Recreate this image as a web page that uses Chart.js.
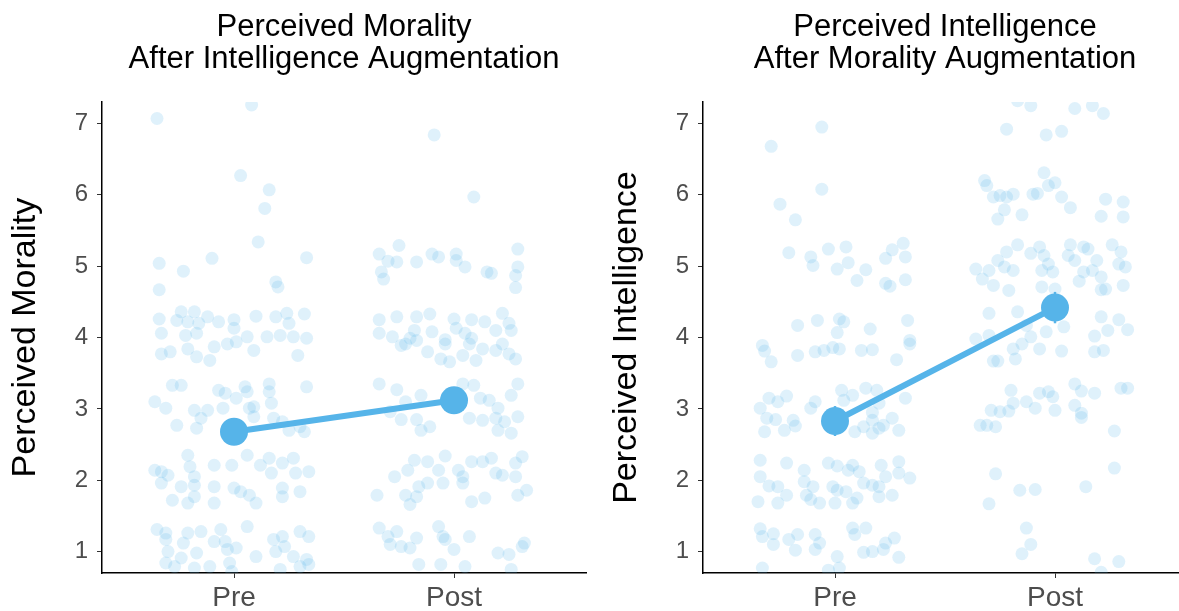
<!DOCTYPE html>
<html>
<head>
<meta charset="utf-8">
<title>Perceived morality and intelligence</title>
<script src="https://cdn.jsdelivr.net/npm/chart.js@4.4.1/dist/chart.umd.min.js"></script>
<style>
  html, body { margin: 0; padding: 0; background: #fff; overflow: hidden; }
  #wrap { position: relative; width: 1179px; height: 611px; overflow: hidden; }
  canvas { position: absolute; top: 0; }
  #left { left: 0; }
  #right { left: 601px; }
</style>
</head>
<body>
<div id="wrap">
  <canvas id="left" width="600" height="611"></canvas>
  <canvas id="right" width="600" height="611"></canvas>
</div>
<script>
const categories = ["Pre", "Post"];
const yTicks = [1, 2, 3, 4, 5, 6, 7];

// mean and standard error per condition
const moralityMeans = [2.68, 3.12];
const moralitySE = [0.15, 0.15];
const intelligenceMeans = [2.83, 4.42];
const intelligenceSE = [0.21, 0.22];

// jittered raw ratings, [x, rating] (x: 1 = Pre, 2 = Post)
const moralityPre = [
  [0.65,7.07],[1.08,7.26],[1.03,6.27],[1.16,6.07],[1.14,5.81],[1.11,5.34],[0.66,5.04],[0.77,4.93],[0.90,5.11],[1.33,5.12],[0.66,4.67],[1.19,4.78],[1.20,4.71],
  [0.66,4.26],[0.76,4.36],[0.82,4.36],[0.88,4.29],[0.93,4.22],[1.00,4.25],[1.10,4.30],[1.19,4.29],[1.24,4.34],[1.32,4.33],[0.74,4.24],[0.79,4.22],[0.84,4.20],[1.00,4.13],[1.25,4.20],[0.67,4.06],[0.78,4.03],[0.83,4.06],[1.06,4.01],[1.15,4.01],[1.21,4.03],[1.27,4.01],[1.33,3.99],
  [1.01,3.94],[0.91,3.87],[0.89,3.68],[0.97,3.91],[1.09,3.82],[1.29,3.75],[0.67,3.77],[0.71,3.80],[0.79,3.84],[0.83,3.73],
  [0.72,3.33],[0.76,3.33],[0.93,3.26],[0.96,3.22],[1.01,3.15],[1.06,3.24],[1.05,3.31],[1.16,3.35],[1.16,3.24],[1.17,3.08],[1.33,3.31],[0.64,3.10],[0.69,3.01],[0.82,2.98],[0.88,2.98],[0.95,3.01],[0.85,2.87],[0.83,2.73],[0.74,2.77],[1.07,3.01],[1.09,3.03],[1.09,2.89],[1.18,2.87],[1.22,2.82],[1.30,2.75],[1.32,2.68],[1.25,2.70],
  [0.79,2.35],[0.80,2.19],[0.82,2.05],[0.91,2.21],[0.99,2.21],[1.06,2.35],[1.12,2.21],[1.16,2.31],[1.22,2.24],[1.27,2.31],[0.64,2.14],[0.67,2.12],[0.70,2.07],[1.17,2.10],[1.28,2.10],[1.34,2.12],
  [0.67,1.96],[0.76,1.91],[0.82,1.93],[0.91,1.91],[1.00,1.89],[1.03,1.84],[1.07,1.79],[1.22,1.89],[1.30,1.84],[0.72,1.72],[0.79,1.68],[0.82,1.77],[0.91,1.68],[1.10,1.68],[1.22,1.77],
  [0.65,1.31],[0.69,1.26],[0.69,1.17],[0.79,1.26],[0.85,1.28],[0.94,1.31],[1.06,1.35],[0.77,1.12],[0.91,1.14],[0.96,1.14],[1.18,1.17],[1.22,1.21],[1.30,1.28],[1.34,1.21],[1.23,1.07],
  [0.70,1.00],[0.76,0.91],[0.83,0.98],[0.97,1.03],[1.01,1.05],[1.10,0.93],[1.19,1.00],[1.27,0.93],[1.33,0.89],[0.69,0.84],[0.73,0.79],[0.82,0.77],[0.89,0.79],[0.98,0.84],[0.99,0.72],[1.21,0.75],[1.30,0.79],[1.34,0.82]
];
const moralityPost = [
  [1.91,6.84],[2.09,5.97],[1.75,5.29],[1.66,5.17],[1.70,5.07],[1.74,5.06],[1.83,5.06],[1.90,5.17],[1.93,5.13],[2.01,5.17],[2.01,5.08],[2.05,4.99],[2.15,4.92],[2.17,4.90],[2.29,5.24],[2.29,4.99],[2.28,4.87],[2.28,4.70],[1.67,4.92],[1.68,4.82],
  [1.66,4.25],[1.74,4.29],[1.83,4.29],[1.89,4.33],[2.00,4.26],[2.08,4.25],[2.14,4.22],[2.22,4.34],[2.25,4.20],[1.66,4.06],[1.72,4.01],[1.82,4.10],[1.90,4.08],[2.01,4.13],[2.05,4.06],[2.19,4.10],[2.26,4.10],[1.80,3.99],[1.96,3.97],[2.08,3.99],
  [1.83,3.96],[1.76,3.89],[1.88,3.80],[1.94,3.70],[1.96,3.91],[1.98,3.66],[2.04,3.75],[2.07,3.91],[2.10,3.68],[2.13,3.84],[2.19,3.82],[2.22,3.91],[2.25,3.77],[2.28,3.70],[1.78,3.91],
  [1.66,3.35],[1.74,3.27],[1.85,3.19],[1.76,2.85],[1.83,2.85],[1.85,2.70],[1.89,2.75],[2.04,3.35],[2.09,3.33],[2.12,3.15],[2.16,3.12],[2.20,3.01],[2.26,3.19],[2.29,3.35],[2.29,2.89],[2.07,2.87],[2.13,2.84],[2.19,2.87],[2.23,2.82],[2.20,2.70],[2.26,2.66],[1.71,2.96],[1.78,3.10],
  [1.82,2.28],[1.79,2.14],[1.73,2.05],[1.88,2.26],[1.93,2.14],[1.96,2.34],[2.02,2.14],[2.04,2.05],[2.08,2.26],[2.13,2.26],[2.17,2.31],[2.19,2.10],[2.22,2.07],[2.28,2.05],[2.31,2.33],[2.28,2.24],[1.65,1.79],[1.78,1.79],[1.83,1.77],[1.88,1.96],[1.84,1.91],[1.95,1.96],[2.04,1.96],[1.80,1.66],[2.08,1.70],[2.14,1.75],[2.29,1.79],[2.33,1.86],
  [1.66,1.33],[1.70,1.21],[1.74,1.28],[1.71,1.10],[1.76,1.07],[1.80,1.05],[1.83,1.19],[1.93,1.35],[1.95,1.21],[1.96,1.17],[2.00,1.03],[2.07,1.21],[2.20,0.98],[2.25,0.96],[2.32,1.12],[1.84,0.82],[1.94,0.82],[2.05,0.79],[2.26,0.75],[2.31,1.07]
];
const intelligencePre = [
  [0.94,6.95],[0.71,6.68],[0.94,6.08],[0.75,5.87],[0.82,5.65],[0.79,5.19],[0.89,5.13],[0.90,5.01],[0.97,5.24],[1.05,5.27],[1.06,5.05],[1.01,4.96],[1.14,4.95],[1.10,4.80],[1.23,5.11],[1.26,5.23],[1.31,5.32],[1.32,5.13],[1.32,4.81],[1.23,4.76],[1.25,4.72],
  [0.83,4.17],[0.92,4.24],[1.02,4.26],[1.04,4.22],[1.01,4.07],[1.16,4.12],[1.33,4.24],[1.34,3.96],
  [0.67,3.89],[0.68,3.81],[0.71,3.66],[0.83,3.75],[0.91,3.80],[0.95,3.82],[0.99,3.86],[1.02,3.84],[1.12,3.82],[1.17,3.83],[1.28,3.69],[1.34,3.91],
  [0.66,3.01],[0.70,3.15],[0.74,3.10],[0.78,3.18],[0.69,2.87],[0.73,2.85],[0.68,2.68],[0.77,2.70],[0.81,2.84],[0.82,2.76],[0.89,3.01],[0.91,3.10],[1.03,3.26],[1.04,3.12],[1.08,3.19],[1.14,3.29],[1.19,3.26],[1.20,3.08],[1.17,2.95],[1.17,2.84],[1.09,2.68],[1.13,2.75],[1.17,2.66],[1.20,2.73],[1.26,2.87],[1.29,2.70],[1.32,3.15],[1.22,2.77],
  [0.66,2.28],[0.66,2.05],[0.65,1.70],[0.70,1.92],[0.74,1.91],[0.78,1.79],[0.74,1.68],[0.78,2.24],[0.86,2.14],[0.86,1.98],[0.90,1.91],[0.87,1.79],[0.89,1.73],[0.93,1.68],[0.97,2.24],[1.01,2.20],[0.99,1.91],[1.01,1.86],[1.05,1.84],[1.00,1.68],[1.06,2.14],[1.08,2.21],[1.11,2.12],[1.13,1.96],[1.08,1.68],[1.10,1.75],[1.17,1.93],[1.20,1.91],[1.21,2.21],[1.23,2.05],[1.20,1.77],[1.26,1.79],[1.29,2.10],[1.29,2.26],[1.34,2.03],
  [0.66,1.32],[0.67,1.21],[0.72,1.25],[0.72,1.10],[0.79,1.17],[0.82,1.02],[0.83,1.24],[0.91,1.24],[0.93,1.12],[0.91,1.03],[1.01,0.93],[1.08,1.33],[1.09,1.24],[1.14,1.33],[1.13,0.99],[1.17,1.00],[1.22,1.03],[1.23,1.12],[1.27,1.19],[1.29,0.92],[0.67,0.77],[0.97,0.74],[1.02,0.77]
];
const intelligencePost = [
  [1.83,7.32],[1.89,7.25],[2.09,7.21],[2.17,7.25],[2.22,7.14],[1.78,6.92],[1.96,6.84],[2.03,6.89],[1.68,6.20],[1.69,6.13],[1.72,5.97],[1.75,5.99],[1.78,5.97],[1.81,6.01],[1.90,6.01],[1.92,6.02],[1.95,6.31],[1.97,6.13],[2.00,6.17],[2.03,5.97],[2.07,5.82],[1.77,5.79],[1.74,5.66],[1.85,5.72],[2.23,5.94],[2.31,5.90],[2.21,5.70],[2.31,5.69],
  [1.83,5.30],[1.78,5.20],[1.89,5.18],[1.93,5.27],[1.95,5.15],[1.97,5.03],[1.94,4.94],[1.99,4.92],[2.06,5.15],[2.07,5.30],[2.09,5.08],[2.13,5.27],[2.15,5.24],[2.19,5.08],[2.17,4.94],[2.13,4.92],[2.11,4.79],[2.21,4.85],[2.26,5.30],[2.30,5.20],[2.29,5.03],[2.32,4.99],[2.31,4.73],[2.23,4.68],[2.21,4.67],[1.64,4.96],[1.67,4.82],[1.70,4.94],[1.74,5.08],[1.77,4.99],[1.81,4.94],[1.72,4.73],[1.79,4.66],[1.94,4.71],[2.00,4.68],
  [1.70,4.34],[1.83,4.36],[1.87,4.17],[1.96,4.08],[2.04,4.15],[2.21,4.29],[2.29,4.25],[2.33,4.11],[2.24,4.10],[2.18,4.02],[1.89,4.01],[1.64,3.98],[1.70,4.03],
  [1.81,3.84],[1.85,3.91],[1.93,3.84],[2.03,3.81],[2.18,3.80],[2.22,3.82],[1.72,3.67],[1.74,3.67],[1.82,3.70],
  [1.80,3.26],[1.81,3.08],[1.71,2.98],[1.75,2.96],[1.79,2.97],[1.87,3.10],[1.91,3.01],[1.93,3.22],[1.97,3.24],[1.99,3.17],[2.00,2.98],[2.09,3.35],[2.12,3.25],[2.09,3.05],[2.12,2.94],[2.12,2.88],[2.18,3.22],[2.30,3.29],[2.33,3.29],[1.66,2.77],[1.69,2.77],[1.73,2.75],[2.27,2.69],
  [1.73,2.09],[1.84,1.86],[1.91,1.87],[2.14,1.91],[2.27,2.17],[1.70,1.67],[1.87,1.33],[1.89,1.10],[1.85,0.97],[2.18,0.90],[2.29,0.86],[2.21,0.71]
];

const FONT = "'Liberation Sans', Arial, Helvetica, sans-serif";
const BLUE = "#56B4E9";

function makePanel(id, titleLines, yTitle, pre, post, means, ses) {
  const meanPoints = categories.map((c, i) => ({ x: i + 1, y: means[i] }));
  const errorBars = categories.map((c, i) => ({
    type: "line",
    data: [{ x: i + 1, y: means[i] - ses[i] }, { x: i + 1, y: means[i] + ses[i] }],
    borderColor: BLUE,
    borderWidth: 2.5,
    pointRadius: 0,
    order: 1
  }));

  new Chart(document.getElementById(id), {
    type: "scatter",
    data: {
      datasets: [
        {
          type: "line",
          data: meanPoints,
          borderColor: BLUE,
          borderWidth: 6,
          pointRadius: 14,
          pointBackgroundColor: BLUE,
          pointBorderWidth: 0,
          order: 0
        },
        ...errorBars,
        {
          type: "scatter",
          data: pre.concat(post).map(([x, y]) => ({ x, y })),
          pointRadius: 6.5,
          backgroundColor: "rgba(86, 180, 233, 0.19)",
          borderWidth: 0,
          clip: 0,
          order: 2
        }
      ]
    },
    options: {
      responsive: false,
      animation: false,
      devicePixelRatio: 1,
      layout: { padding: { left: 0, right: 14, top: 0, bottom: 0 } },
      plugins: {
        legend: { display: false },
        tooltip: { enabled: false },
        title: {
          display: true,
          text: titleLines,
          fullSize: false,
          color: "#000",
          font: { family: FONT, size: 31, weight: "normal", lineHeight: 1.05 },
          padding: { top: 11, bottom: 26 }
        }
      },
      scales: {
        x: {
          type: "linear",
          min: 0.4,
          max: 2.6,
          afterBuildTicks: (s) => { s.ticks = categories.map((c, i) => ({ value: i + 1 })); },
          afterFit: (s) => { s.height = 38; },
          ticks: {
            callback: (v) => categories[Math.round(v) - 1] || "",
            color: "#4D4D4D",
            font: { family: FONT, size: 28 },
            padding: 3,
            maxRotation: 0,
            autoSkip: false
          },
          grid: { drawOnChartArea: false, tickLength: 5, color: "#333" },
          border: { color: "#000", width: 1.5 }
        },
        y: {
          type: "linear",
          min: 0.7,
          max: 7.3,
          afterBuildTicks: (s) => { s.ticks = yTicks.map((v) => ({ value: v })); },
          afterFit: (s) => { s.width = 102; },
          ticks: {
            color: "#4D4D4D",
            font: { family: FONT, size: 24 },
            padding: 9
          },
          grid: { drawOnChartArea: false, tickLength: 5, color: "#333" },
          border: { color: "#000", width: 1.5 },
          title: {
            display: true,
            text: yTitle,
            color: "#000",
            font: { family: FONT, size: 34 },
            padding: { top: 5, bottom: 0 }
          }
        }
      }
    }
  });
}

makePanel("left", ["Perceived Morality", "After Intelligence Augmentation"], "Perceived Morality",
  moralityPre, moralityPost, moralityMeans, moralitySE);
makePanel("right", ["Perceived Intelligence", "After Morality Augmentation"], "Perceived Intelligence",
  intelligencePre, intelligencePost, intelligenceMeans, intelligenceSE);
</script>
</body>
</html>
